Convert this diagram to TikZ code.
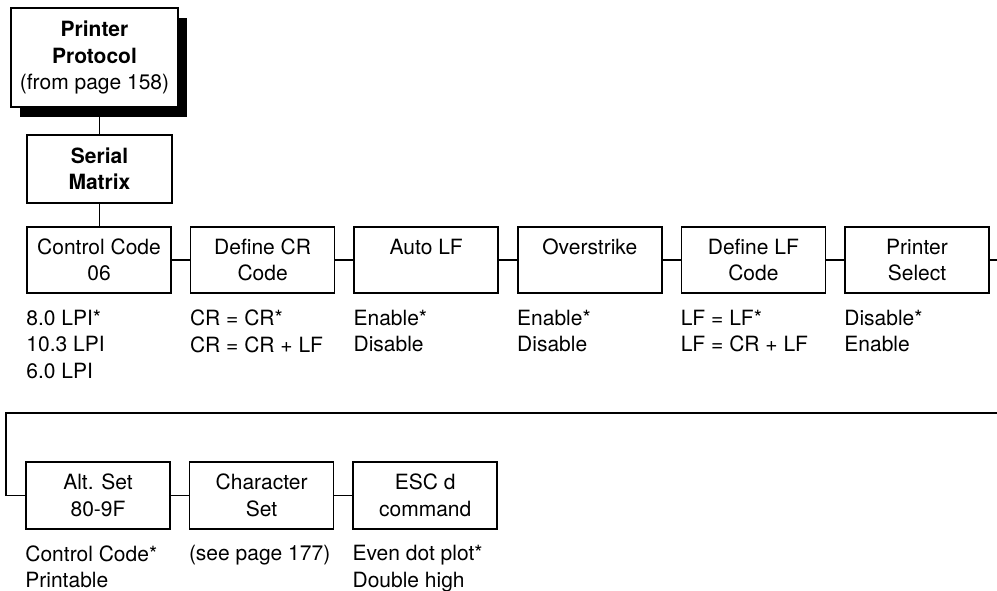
\documentclass[tikz,border=0pt]{standalone}
\usepackage{fontspec}
\setmainfont{TeX Gyre Heros}
\usetikzlibrary{positioning,shadows}
\newcommand{\menusize}{\fontsize{21}{26.5}\selectfont}
\tikzset{menubox/.style={draw,line width=1.6pt,minimum width=144pt,minimum height=66pt,inner sep=0pt,align=center,font=\menusize}, headbox/.style={menubox,font=\menusize\bfseries}, protobox/.style={headbox,minimum width=167pt,minimum height=99pt,fill=white,drop shadow={shadow xshift=9pt,shadow yshift=-10pt,fill=black,opacity=1}}, optlist/.style={inner sep=0pt,align=left,font=\menusize}, wire/.style={line width=1.6pt}}

\begin{document}
\begin{tikzpicture}[x=1pt,y=-1pt,node distance=18pt]
\useasboundingbox (0,0) rectangle (997,591);
\node[protobox] (proto) at (94.5,57.5) {Printer\\Protocol\\\mdseries(from page 158)};
\node[headbox,minimum width=145pt,minimum height=68pt] (serial) at (99.5,169) {Serial\\Matrix};
% first row of the menu
\node[menubox] (ctl) at (99,260) {Control Code\\06};
\node[menubox,right=of ctl] (dcr) {Define CR\\Code};
\node[menubox,right=of dcr] (alf) {Auto LF\\~};
\node[menubox,right=of alf] (ovs) {Overstrike\\~};
\node[menubox,right=of ovs] (dlf) {Define LF\\Code};
\node[menubox,right=of dlf] (psel) {Printer\\Select};
\node[optlist,below right=16pt and 0pt of ctl.south west] (ctlopt) {8.0 LPI*\\10.3 LPI\\6.0 LPI};
\node[optlist,below right=16pt and 0pt of dcr.south west] (dcropt) {CR = CR*\\CR = CR + LF};
\node[optlist,below right=16pt and 0pt of alf.south west] (alfopt) {Enable*\\Disable};
\node[optlist,below right=16pt and 0pt of ovs.south west] (ovsopt) {Enable*\\Disable};
\node[optlist,below right=16pt and 0pt of dlf.south west] (dlfopt) {LF = LF*\\LF = CR + LF};
\node[optlist,below right=16pt and 0pt of psel.south west] (pselopt) {Disable*\\Enable};
% second row of the menu
\node[menubox,minimum height=67pt] (alt) at (98,495.5) {Alt. Set\\80-9F};
\node[menubox,minimum height=67pt,right=of alt] (cset) {Character\\Set};
\node[menubox,minimum height=67pt,right=of cset] (escd) {ESC d\\command};
\node[optlist,below right=15.5pt and 0pt of alt.south west] (altopt) {Control Code*\\Printable};
\node[optlist,below right=15.5pt and 0pt of cset.south west] (csetopt) {(see page 177)};
\node[optlist,below right=15.5pt and 0pt of escd.south west] (escdopt) {Even dot plot*\\Double high};
\coordinate (rowend) at (997,258);
\coordinate (wrapR) at (997,413);
\coordinate (wrapL) at (6,413);
\draw[wire] (serial.north) -- (serial.north |- proto.south);
\draw[wire] (serial.south) -- (serial.south |- ctl.north);
\draw[wire] (ctl.east) -- (dcr.west);
\draw[wire] (dcr.east) -- (alf.west);
\draw[wire] (alf.east) -- (ovs.west);
\draw[wire] (ovs.east) -- (dlf.west);
\draw[wire] (dlf.east) -- (psel.west);
\draw[wire] (psel.east) -- (psel.east -| rowend);
\draw[wire] (wrapR) -- (wrapL) |- (alt.west);
\draw[wire] (alt.east) -- (cset.west);
\draw[wire] (cset.east) -- (escd.west);
\end{tikzpicture}
\end{document}
